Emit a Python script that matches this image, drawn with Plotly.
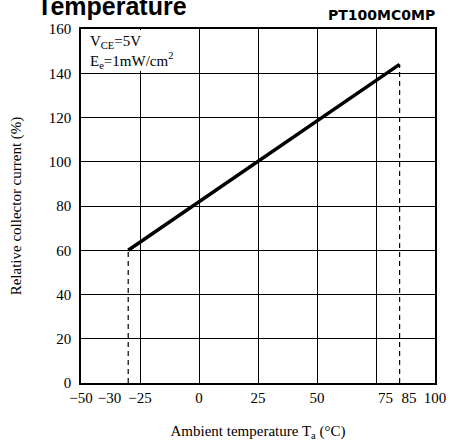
import plotly.graph_objects as go

# Relative collector current vs ambient temperature (linear characteristic)
temperature = [-30, 85]
rel_current = [60, 144]

FS = "\u2007"  # figure space, used to nudge crowded tick labels
x_tick_vals = [-50, -30, -25, 0, 25, 50, 75, 85, 100]
x_tick_text = ["\u221250", "\u221230" + FS * 5, "\u221225", "0", "25", "50",
               FS * 2 + "\u00a0" + "75", FS * 2 + "\u00a0" + "85", "100"]
x_grid_vals = [-25, 0, 25, 50, 75]
y_tick_vals = [0, 20, 40, 60, 80, 100, 120, 140, 160]

serif = "Liberation Serif, Times New Roman, serif"

fig = go.Figure()

# dashed drop lines from the curve endpoints down to the axis
for t, c in zip(temperature, rel_current):
    fig.add_trace(go.Scatter(
        x=[t, t], y=[0, c], mode="lines",
        line=dict(color="black", width=1.2, dash="5px,4px"),
        showlegend=False, hoverinfo="skip"))

fig.add_trace(go.Scatter(
    x=temperature, y=rel_current, mode="lines",
    line=dict(color="black", width=3.5),
    showlegend=False))

# invisible trace on the grid axis so that it gets drawn
fig.add_trace(go.Scatter(x=[-50, 100], y=[0, 0], xaxis="x2", mode="lines",
                         line=dict(width=0), showlegend=False, hoverinfo="skip"))

fig.update_layout(
    width=450, height=441,
    margin=dict(l=81, r=15, t=29, b=58),
    paper_bgcolor="white", plot_bgcolor="white",
    xaxis=dict(
        range=[-50, 100], tickmode="array", tickvals=x_tick_vals, ticktext=x_tick_text,
        tickangle=0, ticklabeloverflow="allow", automargin=False,
        showgrid=False, zeroline=False, showline=True, linecolor="black", linewidth=1.5,
        mirror=True, ticks="", ticklabelstandoff=0,
        tickfont=dict(family=serif, size=15, color="black"),
        title=dict(text="Ambient temperature T<sub>a</sub> (\u00b0C)",
                   font=dict(family=serif, size=15, color="black"), standoff=22),
    ),
    xaxis2=dict(
        range=[-50, 100], overlaying="x", tickmode="array", tickvals=x_grid_vals,
        showgrid=True, gridcolor="black", gridwidth=1, showticklabels=False,
        zeroline=False, showline=False, ticks="", automargin=False,
    ),
    yaxis=dict(
        range=[0, 160], tickmode="array", tickvals=y_tick_vals,
        showgrid=True, gridcolor="black", gridwidth=1, zeroline=False,
        showline=True, linecolor="black", linewidth=1.5, mirror=True, ticks="",
        ticklabelstandoff=5, automargin=False,
        tickfont=dict(family=serif, size=15, color="black"),
        title=dict(text="Relative collector current (%)",
                   font=dict(family=serif, size=15, color="black"), standoff=24),
    ),
    shapes=[dict(type="rect", xref="x", yref="y", x0=-49.5, x1=-0.3, y0=141, y1=159.5,
                 fillcolor="white", line=dict(width=0), layer="between")],
    annotations=[
        dict(text="<b>Temperature</b>", xref="paper", yref="paper", x=-0.13, y=1.02,
             xanchor="left", yanchor="bottom", showarrow=False,
             font=dict(family="Liberation Sans, Arial, sans-serif", size=25, color="black")),
        dict(text="<b>PT100MC0MP</b>", xref="paper", yref="paper", x=1.005, y=1.012,
             xanchor="right", yanchor="bottom", showarrow=False,
             font=dict(family="DejaVu Sans, sans-serif", size=14, color="black")),
        dict(text="V<sub>CE</sub>=5V<br>E<sub>e</sub>=1mW/cm<sup>2</sup>",
             xref="x", yref="y", x=-47, y=159, xanchor="left", yanchor="top",
             align="left", showarrow=False,
             font=dict(family=serif, size=15, color="black")),
    ],
)

fig.write_html("out.html")
